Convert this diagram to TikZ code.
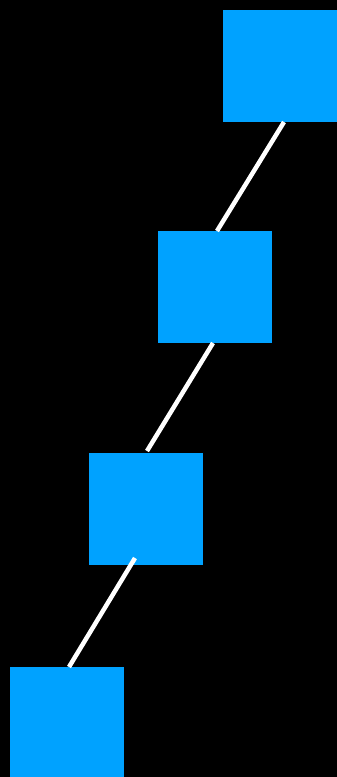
\documentclass[tikz,border=0pt]{standalone}
\usepackage{xcolor}
\usepackage{tikz}
\usetikzlibrary{positioning, arrows.meta}
\definecolor{skyblue}{HTML}{00A2FF}
\tikzset{
  sqbox/.style   = {fill=skyblue, inner sep=0pt, outer sep=0pt,
                    minimum width=114pt, minimum height=112pt},
  linkline/.style = {draw=white, line width=4.5pt}
}
\begin{document}
\begin{tikzpicture}[x=1pt, y=-1pt]
  % Background
  \fill[black] (0,0) rectangle (337,777);
  \useasboundingbox (0,0) rectangle (337,777);
  \clip (0,0) rectangle (337,777);

  % Squares
  \node[sqbox] (sqa) at (280,66)  {};
  \node[sqbox] (sqb) at (215,287) {};
  \node[sqbox] (sqc) at (146,509) {};
  \node[sqbox] (sqd) at (67,723)  {};

  % Links
  \draw[linkline] ([xshift=4pt]sqa.south) -- ([xshift=2pt]sqb.north);
  \draw[linkline] ([xshift=-2pt]sqb.south) -- ([xshift=1pt,yshift=2pt]sqc.north);
  \draw[linkline] ([xshift=-11pt,yshift=7pt]sqc.south) -- ([xshift=2pt]sqd.north);
\end{tikzpicture}
\end{document}
